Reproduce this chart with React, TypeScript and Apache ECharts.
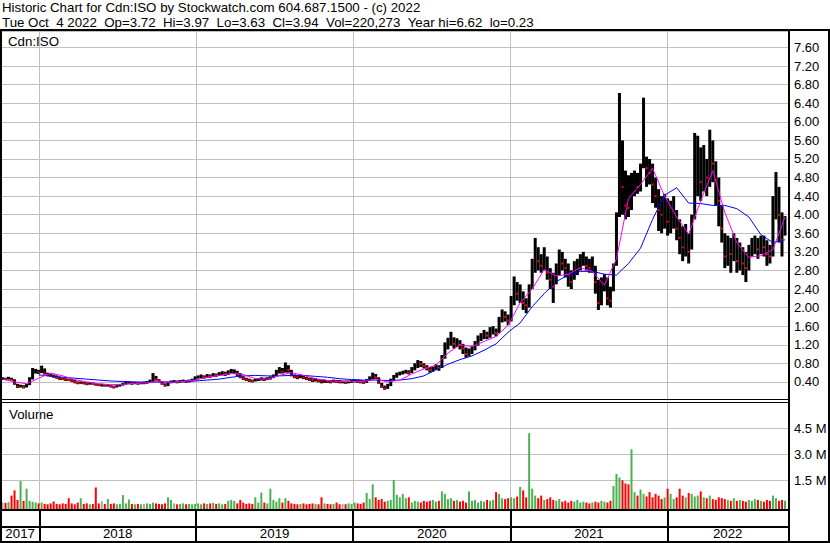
import React, { useEffect, useRef } from 'react';
import * as echarts from 'echarts';

// ---------- data (weekly bars, week 0 = week of Oct 4 2017) ----------
const titleLine1 = 'Historic Chart for Cdn:ISO by Stockwatch.com 604.687.1500 - (c) 2022';
const titleLine2 = 'Tue Oct \u00a04 2022 \u00a0Op=3.72 \u00a0Hi=3.97 \u00a0Lo=3.63 \u00a0Cl=3.94 \u00a0Vol=220,273 \u00a0Year hi=6.62 \u00a0lo=0.23';
const symbolLabel = 'Cdn:ISO';
const volumeLabel = 'Volume';
const years = ['2017', '2018', '2019', '2020', '2021', '2022'];

const closes = [
  0.47, 0.46, 0.48, 0.45, 0.36, 0.30, 0.31, 0.29, 0.33, 0.45,
  0.62, 0.64, 0.60, 0.68, 0.58, 0.55, 0.54, 0.52, 0.50, 0.47,
  0.46, 0.45, 0.44, 0.43, 0.40, 0.38, 0.39, 0.37, 0.36, 0.37,
  0.36, 0.34, 0.33, 0.33, 0.32, 0.33, 0.31, 0.29, 0.31, 0.33,
  0.35, 0.37, 0.38, 0.37, 0.38, 0.37, 0.38, 0.38, 0.39, 0.41,
  0.52, 0.45, 0.41, 0.36, 0.32, 0.38, 0.41, 0.41, 0.40, 0.41,
  0.42, 0.41, 0.42, 0.44, 0.48, 0.50, 0.52, 0.50, 0.53, 0.52,
  0.55, 0.54, 0.57, 0.58, 0.57, 0.60, 0.62, 0.63, 0.58, 0.50,
  0.47, 0.45, 0.43, 0.42, 0.44, 0.45, 0.46, 0.45, 0.47, 0.48,
  0.52, 0.60, 0.66, 0.62, 0.72, 0.66, 0.55, 0.51, 0.50, 0.52,
  0.49, 0.47, 0.45, 0.44, 0.45, 0.42, 0.41, 0.42, 0.41, 0.40,
  0.42, 0.41, 0.40, 0.40, 0.39, 0.40, 0.41, 0.42, 0.41, 0.40,
  0.39, 0.42, 0.47, 0.55, 0.50, 0.38, 0.29, 0.26, 0.32, 0.42,
  0.50, 0.55, 0.58, 0.60, 0.62, 0.60, 0.66, 0.72, 0.80, 0.78,
  0.74, 0.70, 0.66, 0.68, 0.72, 0.70, 0.88, 1.15, 1.25, 1.30,
  1.22, 1.28, 1.20, 1.12, 1.00, 1.05, 1.10, 1.22, 1.30, 1.38,
  1.42, 1.40, 1.48, 1.50, 1.45, 1.70, 1.85, 1.80, 1.72, 2.10,
  2.50, 2.30, 2.35, 2.10, 2.05, 2.40, 2.85, 3.15, 3.00, 2.90,
  3.05, 2.75, 2.60, 2.45, 2.80, 3.05, 2.95, 2.85, 2.70, 2.55,
  2.80, 2.85, 3.00, 3.05, 2.90, 2.85, 2.95, 2.55, 2.10, 2.40,
  2.60, 2.20, 2.15, 2.70, 3.60, 5.40, 4.60, 4.20, 4.15, 4.65,
  4.70, 4.60, 4.80, 5.90, 5.00, 4.90, 4.65, 4.40, 4.10, 4.00,
  4.10, 3.85, 3.95, 4.05, 3.70, 3.50, 3.30, 3.45, 3.20, 3.55,
  4.60, 5.30, 4.70, 5.00, 4.80, 5.40, 5.10, 4.75, 4.30, 3.70,
  3.10, 3.30, 3.15, 3.40, 3.00, 3.20, 2.95, 2.85, 3.10, 3.30,
  3.35, 3.25, 3.40, 3.30, 3.15, 3.10, 3.90, 4.60, 4.00, 3.45,
  3.94,
];

const highs = [
  0.50, 0.49, 0.51, 0.49, 0.46, 0.36, 0.34, 0.33, 0.36, 0.50,
  0.70, 0.68, 0.66, 0.75, 0.69, 0.60, 0.58, 0.56, 0.54, 0.51,
  0.49, 0.48, 0.47, 0.46, 0.44, 0.41, 0.41, 0.40, 0.39, 0.40,
  0.39, 0.37, 0.36, 0.36, 0.35, 0.35, 0.34, 0.32, 0.33, 0.35,
  0.38, 0.40, 0.41, 0.40, 0.40, 0.40, 0.40, 0.41, 0.42, 0.45,
  0.59, 0.53, 0.46, 0.42, 0.37, 0.40, 0.43, 0.44, 0.43, 0.44,
  0.45, 0.44, 0.45, 0.47, 0.52, 0.54, 0.56, 0.54, 0.57, 0.56,
  0.59, 0.58, 0.61, 0.63, 0.62, 0.65, 0.68, 0.67, 0.64, 0.59,
  0.52, 0.49, 0.47, 0.45, 0.47, 0.48, 0.50, 0.49, 0.50, 0.52,
  0.56, 0.66, 0.72, 0.70, 0.82, 0.76, 0.66, 0.56, 0.54, 0.56,
  0.53, 0.51, 0.49, 0.48, 0.48, 0.46, 0.45, 0.45, 0.44, 0.44,
  0.45, 0.44, 0.44, 0.43, 0.43, 0.43, 0.44, 0.45, 0.45, 0.44,
  0.43, 0.46, 0.52, 0.60, 0.57, 0.50, 0.38, 0.32, 0.36, 0.47,
  0.55, 0.60, 0.62, 0.64, 0.66, 0.65, 0.72, 0.80, 0.87, 0.85,
  0.80, 0.76, 0.72, 0.73, 0.78, 0.76, 0.98, 1.25, 1.35, 1.48,
  1.36, 1.34, 1.30, 1.22, 1.14, 1.12, 1.18, 1.28, 1.40, 1.45,
  1.52, 1.48, 1.58, 1.60, 1.55, 1.80, 1.96, 1.92, 1.85, 2.25,
  2.67, 2.55, 2.50, 2.35, 2.20, 2.50, 3.05, 3.50, 3.30, 3.15,
  3.30, 3.10, 2.85, 2.75, 2.95, 3.25, 3.20, 3.05, 2.95, 2.80,
  3.00, 3.05, 3.15, 3.20, 3.10, 3.05, 3.10, 2.90, 2.60, 2.65,
  2.72, 2.65, 2.45, 2.95, 4.05, 6.62, 5.60, 4.95, 4.85, 4.90,
  4.95, 4.90, 5.10, 6.52, 5.25, 5.20, 5.10, 4.80, 4.55, 4.40,
  4.45, 4.35, 4.30, 4.40, 4.10, 3.90, 3.75, 3.80, 3.60, 4.00,
  5.76, 5.70, 5.45, 5.50, 5.20, 5.83, 5.60, 5.15, 4.80, 4.20,
  3.60, 3.55, 3.50, 3.60, 3.50, 3.40, 3.30, 3.20, 3.35, 3.50,
  3.55, 3.50, 3.55, 3.55, 3.45, 3.35, 4.40, 4.92, 4.60, 4.05,
  3.97,
];

const lows = [
  0.44, 0.44, 0.45, 0.43, 0.34, 0.27, 0.28, 0.26, 0.28, 0.33,
  0.45, 0.58, 0.57, 0.59, 0.56, 0.52, 0.51, 0.49, 0.47, 0.44,
  0.44, 0.42, 0.42, 0.40, 0.37, 0.35, 0.36, 0.35, 0.33, 0.34,
  0.34, 0.32, 0.31, 0.30, 0.30, 0.30, 0.28, 0.26, 0.28, 0.30,
  0.32, 0.34, 0.35, 0.34, 0.35, 0.34, 0.35, 0.35, 0.36, 0.38,
  0.40, 0.43, 0.40, 0.34, 0.30, 0.31, 0.37, 0.38, 0.37, 0.38,
  0.39, 0.38, 0.39, 0.41, 0.43, 0.47, 0.48, 0.47, 0.49, 0.49,
  0.51, 0.51, 0.53, 0.54, 0.53, 0.55, 0.58, 0.58, 0.53, 0.48,
  0.44, 0.42, 0.40, 0.39, 0.41, 0.42, 0.43, 0.42, 0.44, 0.45,
  0.48, 0.52, 0.58, 0.58, 0.60, 0.60, 0.52, 0.48, 0.46, 0.48,
  0.46, 0.44, 0.42, 0.40, 0.41, 0.39, 0.37, 0.38, 0.38, 0.37,
  0.39, 0.38, 0.37, 0.37, 0.36, 0.37, 0.38, 0.39, 0.38, 0.37,
  0.36, 0.38, 0.42, 0.46, 0.46, 0.36, 0.27, 0.23, 0.25, 0.31,
  0.42, 0.49, 0.54, 0.56, 0.58, 0.56, 0.59, 0.65, 0.70, 0.72,
  0.69, 0.65, 0.60, 0.62, 0.66, 0.64, 0.70, 0.90, 1.10, 1.18,
  1.12, 1.15, 1.10, 1.00, 0.92, 0.95, 1.00, 1.08, 1.18, 1.28,
  1.32, 1.32, 1.35, 1.42, 1.38, 1.45, 1.68, 1.70, 1.62, 1.70,
  2.05, 2.15, 2.10, 1.95, 1.88, 2.00, 2.40, 2.75, 2.80, 2.75,
  2.80, 2.60, 2.40, 2.10, 2.50, 2.70, 2.80, 2.65, 2.45, 2.40,
  2.60, 2.70, 2.80, 2.90, 2.80, 2.75, 2.75, 2.30, 1.95, 2.05,
  2.35, 2.05, 2.00, 2.35, 2.90, 3.95, 4.00, 3.90, 3.95, 4.10,
  4.40, 4.45, 4.50, 5.00, 4.60, 4.65, 4.25, 4.15, 3.65, 3.60,
  3.70, 3.55, 3.60, 3.70, 3.45, 3.15, 3.00, 3.10, 2.95, 3.25,
  3.90, 4.40, 4.30, 4.50, 4.40, 4.60, 4.70, 4.20, 3.75, 3.40,
  2.85, 2.90, 2.75, 3.00, 2.75, 2.80, 2.70, 2.55, 2.80, 3.10,
  3.15, 3.05, 3.15, 3.10, 2.90, 2.95, 3.10, 3.90, 3.40, 3.10,
  3.55,
];

// volume in millions of shares per week
const volumes = [
  0.20, 0.18, 0.22, 0.60, 0.90, 0.35, 1.44, 0.30, 1.00, 0.30,
  0.25, 0.20, 0.15, 0.20, 0.12, 0.10, 0.15, 0.26, 0.12, 0.10,
  0.15, 0.12, 0.45, 0.15, 0.10, 0.20, 0.45, 0.12, 0.15, 0.10,
  0.12, 1.07, 0.15, 0.28, 0.12, 0.40, 0.12, 0.15, 0.10, 0.12,
  0.63, 0.15, 0.37, 0.12, 0.10, 0.12, 0.10, 0.12, 0.15, 0.12,
  0.20, 0.15, 0.12, 0.10, 0.15, 0.50, 0.35, 0.15, 0.10, 0.12,
  0.15, 0.10, 0.12, 0.10, 0.12, 0.15, 0.10, 0.15, 0.12, 0.15,
  0.18, 0.12, 0.15, 0.10, 0.12, 0.30, 0.35, 0.30, 0.15, 0.35,
  0.20, 0.12, 0.15, 0.12, 0.50, 0.20, 0.78, 0.20, 0.15, 1.00,
  0.35, 0.25, 0.45, 0.20, 0.45, 0.30, 0.15, 0.12, 0.10, 0.12,
  0.15, 0.10, 0.12, 0.15, 0.12, 0.10, 0.50, 0.15, 0.12, 0.10,
  0.12, 0.20, 0.10, 0.12, 0.10, 0.15, 0.12, 0.20, 0.15, 0.12,
  0.20, 0.75, 0.40, 1.25, 0.50, 0.35, 0.40, 0.25, 0.30, 0.35,
  1.50, 0.65, 0.50, 0.70, 0.45, 0.50, 0.20, 0.30, 0.25, 0.20,
  0.30, 0.25, 0.30, 0.35, 0.25, 0.30, 0.84, 0.70, 0.40, 0.45,
  0.30, 0.35, 0.25, 0.30, 0.20, 0.84, 0.30, 0.35, 0.20, 0.30,
  0.25, 0.35, 0.30, 0.35, 0.80, 0.70, 0.45, 0.40, 0.45, 0.50,
  0.45, 0.55, 1.10, 0.90, 0.50, 4.20, 1.00, 0.60, 0.45, 0.60,
  0.35, 0.40, 0.50, 0.35, 0.30, 0.40, 0.25, 0.30, 0.20, 0.30,
  0.25, 0.35, 0.20, 0.25, 0.20, 0.15, 0.20, 0.25, 0.20, 0.30,
  0.25, 0.20, 0.30, 1.16, 1.85, 1.65, 1.48, 1.30, 1.25, 3.27,
  0.80, 0.60, 0.95, 0.70, 0.55, 0.80, 0.50, 0.70, 0.60, 0.40,
  0.50, 1.00, 0.70, 0.40, 0.50, 1.00, 0.60, 0.50, 0.75, 0.70,
  0.55, 0.60, 0.84, 0.50, 0.45, 0.60, 0.40, 0.35, 0.50, 0.45,
  0.40, 0.35, 0.30, 0.45, 0.30, 0.35, 0.30, 0.25, 0.35, 0.30,
  0.40, 0.35, 0.30, 0.25, 0.35, 0.30, 0.60, 0.45, 0.30, 0.35,
  0.30,
];

// short moving average (magenta), read every 4 weeks from week 0
const fastMA = [
  0.46, 0.40, 0.36, 0.48, 0.59, 0.53, 0.45, 0.40, 0.36, 0.34,
  0.35, 0.37, 0.38, 0.42, 0.39, 0.41, 0.44, 0.50, 0.54, 0.58,
  0.56, 0.47, 0.46, 0.54, 0.60, 0.54, 0.47, 0.43, 0.41, 0.41,
  0.41, 0.46, 0.40, 0.44, 0.57, 0.68, 0.76, 1.02, 1.20, 1.16,
  1.27, 1.38, 1.62, 2.10, 2.40, 2.82, 2.68, 2.72, 2.86, 2.78,
  2.48, 3.05, 4.35, 4.65, 5.00, 4.40, 3.95, 3.58, 4.30, 4.95,
  4.05, 3.40, 3.08, 3.12, 3.25, 3.95,
];
const fastMAStart = 0;

// long moving average (blue), read every 4 weeks from week 12
const slowMA = [
  0.55, 0.53, 0.50, 0.48, 0.46, 0.44, 0.42, 0.41, 0.40, 0.39,
  0.40, 0.40, 0.41, 0.42, 0.44, 0.46, 0.50, 0.53, 0.54, 0.53,
  0.53, 0.54, 0.54, 0.52, 0.50, 0.47, 0.45, 0.44, 0.44, 0.43,
  0.44, 0.47, 0.53, 0.66, 0.78, 0.88, 0.96, 1.08, 1.22, 1.47,
  1.67, 2.02, 2.30, 2.56, 2.70, 2.78, 2.78, 2.72, 2.70, 2.95,
  3.28, 3.90, 4.42, 4.58, 4.25, 4.24, 4.20, 4.20, 4.13, 3.95,
  3.57, 3.40, 3.46,
];
const slowMAStart = 12;
const maStep = 4;

const priceTicks = { min: 0, max: 7.955, interval: 0.4 };
const volumeTicks = { min: 0, max: 6, interval: 1.5 };

// ---------- derived positions on the week axis ----------
const X_MIN = -0.5;
const X_MAX = 261;
const dayOf = (y: number, m: number, d: number) =>
  (Date.UTC(y, m, d) - Date.UTC(2017, 9, 4)) / 86400000;
const yearStarts = [2018, 2019, 2020, 2021, 2022].map((y) => (dayOf(y, 0, 1) - 3.5) / 7);
const segEdges = [X_MIN, ...yearStarts, X_MAX];
const yearMids = years.map((_, k) => (segEdges[k] + segEdges[k + 1]) / 2);

const FONT = '"Liberation Sans", Arial, Helvetica, sans-serif';
const GRID_GRAY = '#c0c0c0';
const UP_GREEN = '#4caf50';
const DOWN_RED = '#ff0000';
const FLAT_GRAY = '#a8a8a8';

export default function App() {
  const ref = useRef<HTMLDivElement>(null);

  useEffect(() => {
    if (!ref.current) return;
    const chart = echarts.init(ref.current, undefined, { renderer: 'svg' });

    const priceData = closes.map((c, i) => [
      i,
      lows[i],
      highs[i],
      c,
      i > 0 && c < closes[i - 1] ? 1 : 0,
    ]);
    const volData = volumes.map((v, i) => [
      i,
      v,
      i === 0 ? 0 : closes[i] > closes[i - 1] ? 1 : closes[i] < closes[i - 1] ? -1 : 0,
    ]);
    const fastPts = fastMA.map((v, k) => [fastMAStart + k * maStep, v]);
    const slowPts = slowMA.map((v, k) => [slowMAStart + k * maStep, v]);

    const priceSplitColors = Array.from({ length: 22 }, (_, k) =>
      k === 0 ? 'rgba(0,0,0,0)' : GRID_GRAY
    );
    const volSplitColors = ['rgba(0,0,0,0)', GRID_GRAY, GRID_GRAY, GRID_GRAY, GRID_GRAY];

    const xAxisFor = (g: number) => ({
      type: 'value',
      gridIndex: g,
      min: X_MIN,
      max: X_MAX,
      axisLine: { show: false },
      axisTick:
        g === 2
          ? { show: true, customValues: yearStarts, length: 16, lineStyle: { color: '#000', width: 2 } }
          : { show: false, customValues: yearStarts },
      splitLine: {
        show: true,
        lineStyle: { color: g === 2 ? '#000' : GRID_GRAY, width: g === 2 ? 2 : 1 },
      },
      axisLabel:
        g === 2
          ? {
              show: true,
              customValues: yearMids,
              margin: 1,
              fontSize: 13.3,
              fontFamily: FONT,
              color: '#000',
              formatter: (v: number) => {
                let best = 0;
                yearMids.forEach((m, k) => {
                  if (Math.abs(m - v) < Math.abs(yearMids[best] - v)) best = k;
                });
                return years[best];
              },
            }
          : { show: false },
    });

    const rect = (x: number, y: number, w: number, h: number) => ({
      type: 'rect',
      shape: { x, y, width: w, height: h },
      style: { fill: '#000' },
      silent: true,
      z: 100,
    });

    const textEl = (text: string, x: number, y: number) => ({
      type: 'text',
      x,
      y,
      silent: true,
      style: { text, fill: '#000', font: `13.3px ${FONT}`, textVerticalAlign: 'middle' },
    });

    const option: any = {
      animation: false,
      backgroundColor: '#fff',
      textStyle: { fontFamily: FONT },
      grid: [
        { left: 1, width: 787, top: 31, height: 369.5 },
        { left: 1, width: 787, top: 402, height: 104 },
        { left: 1, width: 787, top: 511, height: 15 },
      ],
      xAxis: [xAxisFor(0), xAxisFor(1), xAxisFor(2)],
      yAxis: [
        {
          type: 'value',
          gridIndex: 0,
          position: 'right',
          min: priceTicks.min,
          max: priceTicks.max,
          interval: priceTicks.interval,
          axisLine: { show: false },
          axisTick: { show: false },
          axisLabel: {
            margin: 6,
            fontSize: 13,
            fontFamily: FONT,
            color: '#000',
            showMaxLabel: false,
            formatter: (v: number) => (v > 0.01 && v < 7.7 ? v.toFixed(2) : ''),
          },
          splitLine: { show: true, lineStyle: { color: priceSplitColors, width: 1 } },
        },
        {
          type: 'value',
          gridIndex: 1,
          position: 'right',
          min: volumeTicks.min,
          max: volumeTicks.max,
          interval: volumeTicks.interval,
          axisLine: { show: false },
          axisTick: { show: false },
          axisLabel: {
            margin: 6,
            fontSize: 13,
            fontFamily: FONT,
            color: '#000',
            formatter: (v: number) => (v > 0.01 && v < 5.9 ? v.toFixed(1) + ' M' : ''),
          },
          splitLine: { show: true, lineStyle: { color: volSplitColors, width: 1 } },
        },
        { type: 'value', gridIndex: 2, min: 0, max: 1, show: false },
      ],
      series: [
        {
          type: 'custom',
          name: 'price',
          xAxisIndex: 0,
          yAxisIndex: 0,
          data: priceData,
          encode: { x: 0, y: [1, 2] },
          renderItem: (_params: any, api: any) => {
            const x = api.value(0);
            const lo = api.value(1);
            const hi = api.value(2);
            const cl = api.value(3);
            const dn = api.value(4);
            const pHi = api.coord([x, hi]);
            const pLo = api.coord([x, lo]);
            const pCl = api.coord([x, cl]);
            const children: any[] = [
              {
                type: 'rect',
                shape: { x: pHi[0] - 1.5, y: pHi[1], width: 3, height: Math.max(1.5, pLo[1] - pHi[1]) },
                style: { fill: '#000' },
              },
            ];
            if (dn) {
              children.push({
                type: 'rect',
                shape: { x: pCl[0] - 1, y: pCl[1] - 1, width: 2, height: 2 },
                style: { fill: DOWN_RED },
              });
            }
            return { type: 'group', children };
          },
          z: 2,
        },
        {
          type: 'line',
          name: 'fast',
          xAxisIndex: 0,
          yAxisIndex: 0,
          data: fastPts,
          symbol: 'none',
          lineStyle: { color: '#ff00ff', width: 1 },
          z: 4,
        },
        {
          type: 'line',
          name: 'slow',
          xAxisIndex: 0,
          yAxisIndex: 0,
          data: slowPts,
          symbol: 'none',
          lineStyle: { color: '#0000ff', width: 1 },
          z: 3,
        },
        {
          type: 'custom',
          name: 'volume',
          xAxisIndex: 1,
          yAxisIndex: 1,
          data: volData,
          encode: { x: 0, y: 1 },
          clip: false,
          renderItem: (_params: any, api: any) => {
            const x = api.value(0);
            const v = api.value(1);
            const d = api.value(2);
            const top = api.coord([x, v]);
            const base = api.coord([x, 0]);
            const bottom = base[1] + 3;
            return {
              type: 'rect',
              shape: { x: top[0] - 1, y: top[1], width: 2, height: bottom - top[1] },
              style: { fill: d > 0 ? UP_GREEN : d < 0 ? DOWN_RED : FLAT_GRAY },
            };
          },
        },
      ],
      graphic: [
        rect(0, 29, 830, 2),
        rect(0, 29, 2, 514),
        rect(828, 29, 2, 514),
        rect(0, 541, 830, 2),
        rect(788, 29, 2, 514),
        rect(0, 399, 789, 1),
        rect(0, 402, 789, 1),
        rect(0, 509, 789, 2),
        rect(0, 526, 789, 2),
        textEl(titleLine1, 2, 7.5),
        textEl(titleLine2, 2, 22.5),
        textEl(symbolLabel, 8, 41.5),
        textEl(volumeLabel, 9, 414),
      ],
    };

    chart.setOption(option);
    return () => chart.dispose();
  }, []);

  return (
    <div
      ref={ref}
      style={{ position: 'absolute', left: 0, top: 0, width: 830, height: 543 }}
    />
  );
}
